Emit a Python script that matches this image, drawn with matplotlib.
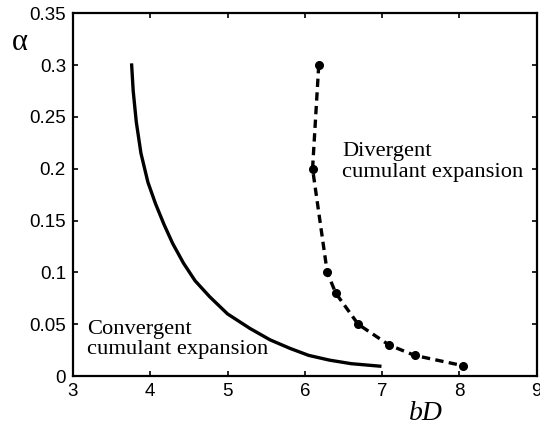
import numpy as np
import matplotlib.pyplot as plt

# convergent boundary (solid line)
conv_bD = [3.76, 3.78, 3.82, 3.88, 3.97, 4.07, 4.18, 4.29, 4.43, 4.58, 4.77,
           5.00, 5.29, 5.55, 5.81, 6.05, 6.32, 6.60, 6.97]
conv_alpha = [0.300, 0.275, 0.245, 0.215, 0.187, 0.166, 0.146, 0.128, 0.109,
              0.092, 0.0765, 0.060, 0.046, 0.035, 0.0267, 0.020, 0.0154,
              0.012, 0.0096]

# divergent boundary (dashed line with dots)
div_bD = [6.18, 6.10, 6.29, 6.40, 6.69, 7.09, 7.42, 8.05]
div_alpha = [0.30, 0.20, 0.10, 0.08, 0.05, 0.03, 0.02, 0.01]

xticks = [3, 4, 5, 6, 7, 8, 9]
yticks = [0, 0.05, 0.1, 0.15, 0.2, 0.25, 0.3, 0.35]
ytick_labels = ['0', '0.05', '0.1', '0.15', '0.2', '0.25', '0.3', '0.35']

fig = plt.figure(figsize=(5.4, 4.25), dpi=100)
ax = fig.add_axes([0.135, 0.115, 0.859, 0.854])

ax.plot(conv_bD, conv_alpha, color='black', lw=2.4)
ax.plot(div_bD, div_alpha, color='black', lw=2.4, ls=(0, (2.5, 1.6)),
        marker='o', ms=5.5)

ax.set_xlim(3, 9)
ax.set_ylim(0, 0.35)
ax.set_xticks(xticks)
ax.set_yticks(yticks)
ax.set_yticklabels(ytick_labels)
ax.tick_params(direction='in', top=True, right=True, length=3.6, width=1.2,
               labelsize=13.5, pad=5)
for lab in ax.get_xticklabels() + ax.get_yticklabels():
    lab.set_family('Liberation Sans')
for s in ax.spines.values():
    s.set_linewidth(1.6)

serif = 'Liberation Serif'
ax.text(3.18, 0.0209, 'Convergent\ncumulant expansion', family=serif,
        fontsize=16.2, va='baseline', ha='left', linespacing=1.12)
ax.text(6.48, 0.192, 'Divergent\ncumulant expansion', family=serif,
        fontsize=16.2, va='baseline', ha='left', linespacing=1.12)

fig.text(0.037, 0.899, '\u03b1', fontsize=22, family=serif,
         ha='center', va='center')
fig.text(0.788, 0.0118, 'bD', fontsize=20, family=serif, style='italic',
         ha='center', va='baseline')

fig.savefig('out.png', dpi=100)
